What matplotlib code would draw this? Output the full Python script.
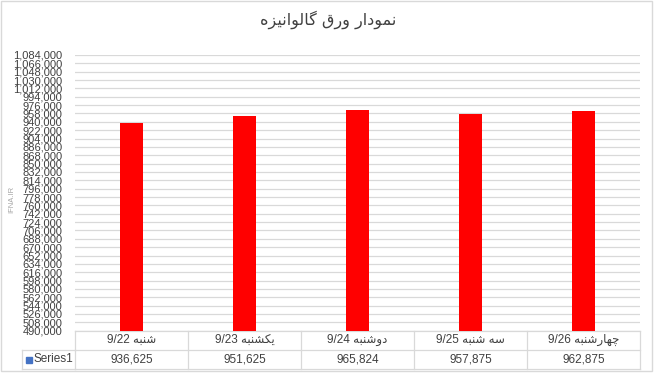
import matplotlib.pyplot as plt
from matplotlib.patches import Rectangle
import matplotlib.transforms as mtransforms

# Data
title = "نمودار ورق گالوانیزه"
days = ["شنبه 9/22", "یکشنبه 9/23", "دوشنبه 9/24", "سه شنبه 9/25", "چهارشنبه 9/26"]
prices = [936625, 951625, 965824, 957875, 962875]
series_name = "Series1"
y_label = "IFNA.IR"
y_min, y_max, y_step = 490000, 1084000, 18000

# Minimal Persian shaping (matplotlib has no RTL / joining support)
# letter: (isolated, final, initial, medial); None = right-joining only
FORMS = {
    'ا': (0xFE8D, 0xFE8E, None, None),
    'ب': (0xFE8F, 0xFE90, 0xFE91, 0xFE92),
    'چ': (0xFB7A, 0xFB7B, 0xFB7C, 0xFB7D),
    'د': (0xFEA9, 0xFEAA, None, None),
    'ر': (0xFEAD, 0xFEAE, None, None),
    'ز': (0xFEAF, 0xFEB0, None, None),
    'س': (0xFEB1, 0xFEB2, 0xFEB3, 0xFEB4),
    'ش': (0xFEB5, 0xFEB6, 0xFEB7, 0xFEB8),
    'ق': (0xFED5, 0xFED6, 0xFED7, 0xFED8),
    'ک': (0xFB8E, 0xFB8F, 0xFB90, 0xFB91),
    'گ': (0xFB92, 0xFB93, 0xFB94, 0xFB95),
    'ل': (0xFEDD, 0xFEDE, 0xFEDF, 0xFEE0),
    'م': (0xFEE1, 0xFEE2, 0xFEE3, 0xFEE4),
    'ن': (0xFEE5, 0xFEE6, 0xFEE7, 0xFEE8),
    'ه': (0xFEE9, 0xFEEA, 0xFEEB, 0xFEEC),
    'و': (0xFEED, 0xFEEE, None, None),
    'ی': (0xFBFC, 0xFBFD, 0xFBFE, 0xFBFF),
}


def shape_word(w):
    out = []
    for i, ch in enumerate(w):
        if ch not in FORMS:
            out.append(ch)
            continue
        iso, fin, ini, med = FORMS[ch]
        prev_j = i > 0 and w[i - 1] in FORMS and FORMS[w[i - 1]][2] is not None
        next_j = i < len(w) - 1 and w[i + 1] in FORMS and ini is not None
        if prev_j and next_j:
            c = med
        elif prev_j:
            c = fin
        elif next_j:
            c = ini
        else:
            c = iso
        out.append(chr(c))
    return "".join(out)


def rtl(text):
    parts = []
    for tok in reversed(text.split(" ")):
        if any(ch in FORMS for ch in tok):
            parts.append(shape_word(tok)[::-1])
        else:
            parts.append(tok)
    return " ".join(parts)


W, H = 656, 376
fig = plt.figure(figsize=(W / 100, H / 100), dpi=100)
fig.patch.set_facecolor('white')

# plot area in pixels: x 75..640, y 55..330.7 (from top)
ax = fig.add_axes([75 / W, (H - 330.7) / H, 565 / W, 275.7 / H])

x = list(range(len(days)))
ax.bar(x, prices, width=0.2, color='#FF0000', zorder=3)

ax.set_xlim(-0.5, len(days) - 0.5)
ax.set_ylim(y_min, y_max)
yt = list(range(y_min, y_max + 1, y_step))
ax.set_yticks(yt)
ax.set_yticklabels([f"{v:,}" for v in yt], fontsize=8, color='#404040',
                   family=['Liberation Sans', 'DejaVu Sans'])
ax.tick_params(axis='y', length=0, pad=9)
ax.tick_params(axis='x', length=0, labelbottom=False)
ax.grid(axis='y', color='#d9d9d9', linewidth=0.9, zorder=0)
for s in ax.spines.values():
    s.set_visible(False)
ax.set_axisbelow(True)

# y axis title
fig.text(12 / W, 1 - 199 / H, y_label, rotation=90, ha='center', va='center',
         fontsize=5.5, color='#a6a6a6', family='Liberation Sans')

# title
fig.text(328 / W, 1 - 20 / H, rtl(title), ha='center', va='center',
         fontsize=11.5, color='#404040', family=['DejaVu Sans'])

# data table under the plot (x in data units, y in axes units)
trans = mtransforms.blended_transform_factory(ax.transData, ax.transAxes)
row_h = 19.0 / 275.7
line_kw = dict(color='#d9d9d9', linewidth=0.9, transform=trans, clip_on=False)
n = len(days)
# horizontal lines
ax.plot([-0.5, n - 0.5], [0, 0], **line_kw)
ax.plot([-0.5, n - 0.5], [-row_h, -row_h], **line_kw)
ax.plot([-0.5, n - 0.5], [-2 * row_h, -2 * row_h], **line_kw)
# vertical lines
for i in range(n + 1):
    ax.plot([i - 0.5, i - 0.5], [0, -2 * row_h], **line_kw)

txt_family = ['Liberation Sans', 'DejaVu Sans']
for i, (d, v) in enumerate(zip(days, prices)):
    ax.text(i, -0.5 * row_h, rtl(d), transform=trans, ha='center', va='center',
            fontsize=8.5, color='#404040', family=txt_family)
    ax.text(i, -1.5 * row_h, f"{v:,}", transform=trans, ha='center', va='center',
            fontsize=8.5, color='#404040', family=txt_family)

# series cell on the left of the value row
fig_kw = dict(color='#d9d9d9', linewidth=0.9, transform=fig.transFigure)
y_top = 1 - 350 / H
y_bot = 1 - 369 / H
fig.add_artist(plt.Line2D([22 / W, 75 / W], [y_top, y_top], **fig_kw))
fig.add_artist(plt.Line2D([22 / W, 75 / W], [y_bot, y_bot], **fig_kw))
fig.add_artist(plt.Line2D([22 / W, 22 / W], [y_top, y_bot], **fig_kw))
fig.add_artist(Rectangle((26 / W, 1 - 362.5 / H), 6 / W, 6 / H,
                         transform=fig.transFigure, color='#4472C4'))
fig.text(33.5 / W, (y_top + y_bot) / 2, series_name, ha='left', va='center',
         fontsize=8.5, color='#404040', family='Liberation Sans')

# outer chart border
fig.add_artist(Rectangle((0.5 / W, 1 - 371 / H), 651 / W, 370.5 / H,
                         transform=fig.transFigure, fill=False,
                         edgecolor='#d9d9d9', linewidth=1))

fig.savefig('out.png', dpi=100)
